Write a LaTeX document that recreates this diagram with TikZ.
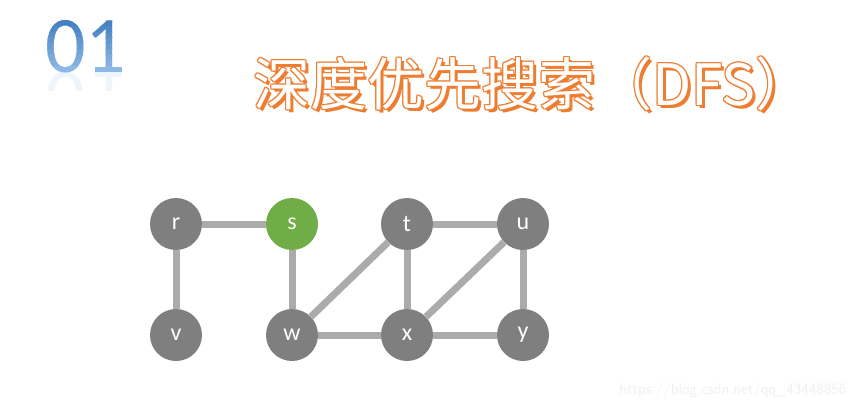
\documentclass[tikz,border=0pt]{standalone}
\usepackage{fontspec}
\setmainfont{Carlito}
\newfontfamily\cjkfont{Noto Sans CJK SC}
\usepackage{xcolor}
\usetikzlibrary{positioning, calc}
\definecolor{nodegray}{RGB}{127, 127, 127}
\definecolor{startgreen}{RGB}{112, 173, 71}
\definecolor{edgegray}{RGB}{173, 171, 170}
\definecolor{titleorange}{RGB}{237, 125, 49}
\definecolor{numblue}{RGB}{60, 122, 190}
\definecolor{numlight}{RGB}{150, 190, 232}
\definecolor{markgray}{RGB}{240, 240, 240}
\newcommand{\titletext}{深度优先搜索（DFS）}

\begin{document}
\begin{tikzpicture}[
    x=1pt, y=-1pt,
    vertex/.style={circle, fill=nodegray, text=white, inner sep=0pt,
                   minimum size=52pt, font=\fontsize{24}{24}\selectfont},
    start/.style={vertex, fill=startgreen},
    edge/.style={edgegray, line width=7pt},
    ttl/.style={font=\cjkfont\fontsize{57}{57}\selectfont, inner sep=0pt},
    numtxt/.style={anchor=base west, inner sep=0pt,
                   font=\fontsize{80}{80}\selectfont}
  ]
  \useasboundingbox (0,0) rectangle (860,408);

  % Section number in bands from dark to light, and its reflection
  \foreach \i in {0,...,9} {
    \pgfmathsetmacro{\mix}{100-\i*10}
    \begin{scope}
      \clip (40,{15+\i*5.7}) rectangle (130,{15+(\i+1)*5.7+0.3});
      \node[numtxt, text=numblue!\mix!numlight] at (45,72) {01};
    \end{scope}
  }
  \node[numtxt, text opacity=0] (num) at (45,72) {01};
  \begin{scope}
    \clip (40,72) rectangle (130,90);
    \node[numtxt, numlight, opacity=0.15, yscale=-1] (numrefl) at (45,72) {01};
  \end{scope}

  % Title: shadow, outline, white fill
  \node[ttl, titleorange] (shadow) at (536,87) {\titletext};
  \foreach \a in {0,45,...,315}
    \node[ttl, titleorange] at ($(533,84)+(\a:1.3)$) {\titletext};
  \node[ttl, white] (title) at (533,84) {\titletext};

  % Top row
  \node[vertex] (r) at (176,224) {r};
  \node[start]  (s) at (292,224) {s};
  \node[vertex] (t) at (407,224) {t};
  \node[vertex] (u) at (523,224) {u};

  % Bottom row
  \node[vertex] (v) at (176,335) {v};
  \node[vertex] (w) at (292,335) {w};
  \node[vertex] (x) at (407,335) {x};
  \node[vertex] (y) at (523,335) {y};

  % Edges
  \draw[edge] (r) -- (s);
  \draw[edge] (r) -- (v);
  \draw[edge] (s) -- (w);
  \draw[edge] (w) -- (t);
  \draw[edge] (w) -- (x);
  \draw[edge] (t) -- (u);
  \draw[edge] (t) -- (x);
  \draw[edge] (x) -- (u);
  \draw[edge] (x) -- (y);
  \draw[edge] (u) -- (y);

  % Watermark
  \node[markgray, anchor=base east, font=\sffamily\fontsize{16}{16}\selectfont]
    (mark) at (850,394) {https://blog.csdn.net/qq\_43448856};

\end{tikzpicture}
\end{document}
